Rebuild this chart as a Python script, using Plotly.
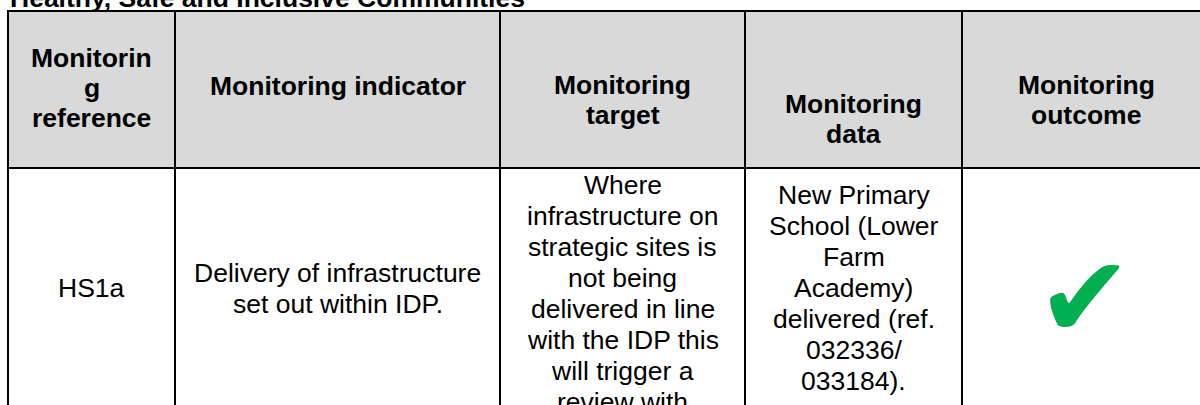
import plotly.graph_objects as go

# ---- data (text content of the table) ----
title_text = "Healthy, Safe and Inclusive Communities"
header_lines = [
    ["Monitorin", "g", "reference"],
    ["Monitoring indicator"],
    ["Monitoring", "target"],
    ["Monitoring", "data"],
    ["Monitoring", "outcome"],
]
body_lines = [
    ["HS1a"],
    ["Delivery of infrastructure", "set out within IDP."],
    ["Where", "infrastructure on", "strategic sites is", "not being",
     "delivered in line", "with the IDP this", "will trigger a", "review with"],
    ["New Primary", "School (Lower", "Farm", "Academy)", "delivered (ref.",
     "032336/", "033184)."],
]
outcome_symbol = "\u2714"

# ---- layout constants (pixels) ----
W, H = 1200, 405
col_edges = [8, 175, 500, 745, 962, 1210]
table_top, header_bottom, body_bottom = 11, 168, 420
header_centers = [87.5, 86, 99.5, 118.5, 99.5]
header_pitch = 30
body_centers = [287.5, 288.5, None, 287.5]
body_first_line = [None, None, 184.5, None]   # long cell starts at the top
body_pitch = 31
fs = 26.5
FONT = "Liberation Sans, Arial, sans-serif"
HEADER_FILL = "#D9D9D9"
GREEN = "#00B050"

fig = go.Figure()
fig.add_trace(go.Scatter(x=[0, W], y=[0, H], mode="markers",
                         marker=dict(opacity=0), hoverinfo="skip", showlegend=False))

shapes = []
# header background
shapes.append(dict(type="rect", xref="x", yref="y", x0=col_edges[0], x1=col_edges[-1],
                   y0=table_top, y1=header_bottom, fillcolor=HEADER_FILL,
                   line=dict(width=0), layer="below"))
# horizontal rules
for yv in (table_top, header_bottom, body_bottom):
    shapes.append(dict(type="line", xref="x", yref="y", x0=col_edges[0] - 1, x1=col_edges[-1] + 1,
                       y0=yv, y1=yv, line=dict(color="black", width=2)))
# vertical rules
for xv in col_edges:
    shapes.append(dict(type="line", xref="x", yref="y", x0=xv, x1=xv,
                       y0=table_top, y1=body_bottom, line=dict(color="black", width=2)))

annotations = []

def add_block(lines, cx, pitch, cy=None, first=None, bold=False):
    n = len(lines)
    for i, ln in enumerate(lines):
        if first is not None:
            yy = first + i * pitch
        else:
            yy = cy + (i - (n - 1) / 2) * pitch
        txt = f"<b>{ln}</b>" if bold else ln
        annotations.append(dict(x=cx, y=yy, xref="x", yref="y", text=txt, showarrow=False,
                                xanchor="center", yanchor="middle",
                                font=dict(family=FONT, size=fs, color="black")))

for j, lines in enumerate(header_lines):
    cx = (col_edges[j] + col_edges[j + 1]) / 2
    add_block(lines, cx, header_pitch, cy=header_centers[j], bold=True)

for j, lines in enumerate(body_lines):
    cx = (col_edges[j] + col_edges[j + 1]) / 2
    add_block(lines, cx, body_pitch, cy=body_centers[j], first=body_first_line[j])

# outcome check mark
annotations.append(dict(x=(col_edges[4] + col_edges[5]) / 2 - 1, y=297, xref="x", yref="y",
                        text=outcome_symbol, showarrow=False, xanchor="center", yanchor="middle",
                        font=dict(family="DejaVu Sans", size=114, color=GREEN)))

# title (partly cut off at the top of the page)
annotations.append(dict(x=8, y=1, xref="x", yref="y", text=f"<b>{title_text}</b>",
                        showarrow=False, xanchor="left", yanchor="middle", yshift=3.5,
                        font=dict(family=FONT, size=fs, color="black")))

fig.update_layout(
    width=W, height=H, margin=dict(l=0, r=0, t=0, b=0),
    paper_bgcolor="white", plot_bgcolor="white",
    xaxis=dict(range=[0, W], visible=False, fixedrange=True),
    yaxis=dict(range=[H, 0], visible=False, fixedrange=True),
    shapes=shapes, annotations=annotations, showlegend=False,
)
fig.write_html("out.html", config={"displayModeBar": False, "staticPlot": True},
               post_script="document.body.style.margin='0';document.body.style.overflow='hidden';")
